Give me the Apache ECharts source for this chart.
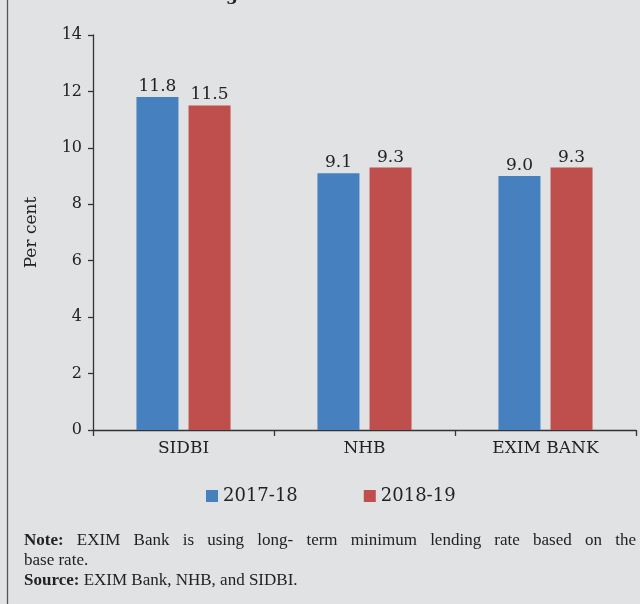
<!DOCTYPE html>
<html>
<head>
<meta charset="utf-8">
<script src="https://cdn.jsdelivr.net/npm/echarts@6/dist/echarts.min.js"></script>
<style>
html,body{margin:0;padding:0;background:#e1e2e4;}
#chart{width:640px;height:604px;}
</style>
</head>
<body>
<div id="chart"></div>
<script>
const categories = ['SIDBI', 'NHB', 'EXIM BANK'];
const seriesNames = ['2017-18', '2018-19'];
const values2017 = [11.8, 9.1, 9.0];
const values2018 = [11.5, 9.3, 9.3];
const yTicks = { min: 0, max: 14, interval: 2 };
const axisName = 'Per cent';
const titleFragment = 'g';
const noteLines = [
  ['Note:', 'EXIM Bank is using long- term minimum lending rate based on the'],
  ['', 'base rate.'],
  ['Source:', 'EXIM Bank, NHB, and SIDBI.']
];

const serif = '"DejaVu Serif", serif';
const noteFont = '"Liberation Serif", serif';
const textColor = '#222';

const chart = echarts.init(document.getElementById('chart'));

// note text elements (first line justified like the reference)
const cv = document.createElement('canvas').getContext('2d');
function measure(t, bold, size) {
  cv.font = (bold ? 'bold ' : '') + size + 'px ' + noteFont;
  return cv.measureText(t).width;
}
const noteSize = 17;
const noteLeft = 24, noteRight = 636;
const noteY = [541, 561, 581];
const graphics = [];
noteLines.forEach((ln, i) => {
  const words = [];
  if (ln[0]) words.push({ t: ln[0], b: true });
  ln[1].split(' ').forEach(w => words.push({ t: w, b: false }));
  const widths = words.map(w => measure(w.t, w.b, noteSize));
  const total = widths.reduce((a, b) => a + b, 0);
  let gap = measure(' ', false, noteSize);
  if (i === 0) gap = (noteRight - noteLeft - total) / (words.length - 1);
  let x = noteLeft;
  words.forEach((w, k) => {
    graphics.push({
      type: 'text', x: x, y: noteY[i],
      style: { text: w.t, font: (w.b ? 'bold ' : '') + noteSize + 'px ' + noteFont, fill: textColor, textVerticalAlign: 'middle' }
    });
    x += widths[k] + gap;
  });
});
graphics.push({
  type: 'line', shape: { x1: 7.5, y1: 0, x2: 7.5, y2: 604 },
  style: { stroke: '#555', lineWidth: 1.3 }
});
graphics.push({
  type: 'text', x: 226, y: 4,
  style: { text: titleFragment, font: 'bold 17px ' + serif, fill: textColor, textVerticalAlign: 'bottom' }
});

const labelStyle = {
  show: true, position: 'top', distance: 2, fontFamily: serif, fontSize: 17, color: textColor,
  formatter: p => p.value.toFixed(1)
};

chart.setOption({
  backgroundColor: '#e1e2e4',
  animation: false,
  grid: { left: 93, right: 4, top: 35, bottom: 174 },
  legend: {
    data: seriesNames, left: 206, top: 487, padding: 0, itemWidth: 12, itemHeight: 12, itemGap: 66,
    icon: 'rect', textStyle: { fontFamily: serif, fontSize: 18, color: textColor }
  },
  xAxis: {
    type: 'category', data: categories,
    axisLine: { lineStyle: { color: '#333', width: 1.3 } },
    axisTick: { show: true, length: 6, lineStyle: { color: '#333', width: 1.3 } },
    axisLabel: { fontFamily: serif, fontSize: 17, color: textColor, margin: 10 }
  },
  yAxis: {
    type: 'value', min: yTicks.min, max: yTicks.max, interval: yTicks.interval,
    name: axisName, nameLocation: 'middle', nameGap: 53, nameRotate: 90,
    nameTextStyle: { fontFamily: serif, fontSize: 17, color: textColor },
    axisLine: { show: true, lineStyle: { color: '#333', width: 1.3 } },
    axisTick: { show: true, length: 5, lineStyle: { color: '#333', width: 1.3 } },
    splitLine: { show: false },
    axisLabel: { fontFamily: serif, fontSize: 16, color: textColor, margin: 11 }
  },
  series: [
    { name: seriesNames[0], type: 'bar', data: values2017, barWidth: 42, barGap: '24%',
      itemStyle: { color: '#4680bf' }, label: Object.assign({}, labelStyle) },
    { name: seriesNames[1], type: 'bar', data: values2018, barWidth: 42, barGap: '24%',
      itemStyle: { color: '#be4f4c' }, label: Object.assign({}, labelStyle) }
  ],
  graphic: graphics
});
</script>
</body>
</html>
